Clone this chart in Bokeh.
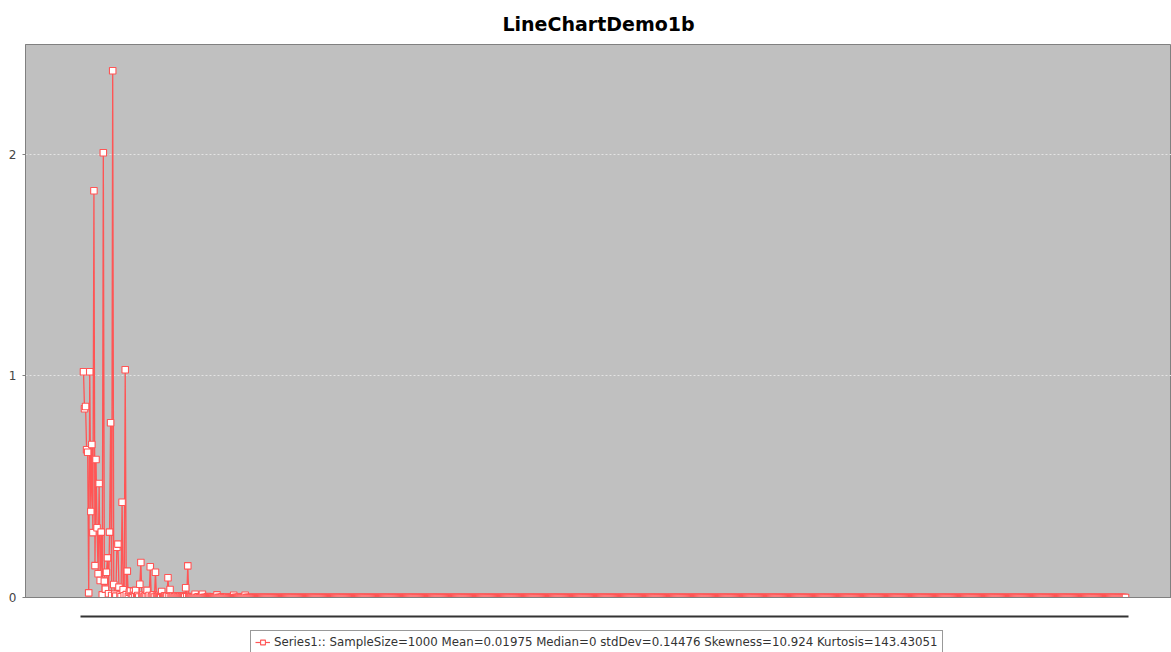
from bokeh.plotting import figure
from bokeh.layouts import column
from bokeh.models import Range1d, FixedTicker, LinearAxis, Legend, LegendItem, ColumnDataSource
from bokeh.embed import file_html
from bokeh.resources import INLINE

# ---------------- data ----------------
N_SAMPLES = 1000
chart_title = "LineChartDemo1b"
legend_label = ("Series1:: SampleSize=1000 Mean=0.01975 Median=0 stdDev=0.14476 "
                "Skewness=10.924 Kurtosis=143.43051")
y_ticks = [0, 1, 2]

# non-zero samples (index, value); every other sample is 0
nonzero_index = [
    0, 1, 2, 3, 4, 5, 6, 7, 8, 9, 10, 11, 12, 13, 14, 15, 16, 17, 18, 19,
    20, 21, 22, 23, 24, 25, 26, 27, 28, 29, 30, 31, 32, 33, 34, 35, 36, 37, 38, 39,
    40, 41, 42, 43, 44, 45, 46, 47, 48, 49, 50, 51, 52, 53, 54, 55, 56, 57, 58, 59,
    60, 61, 62, 63, 64, 65, 66, 67, 68, 69, 70, 71, 72, 73, 74, 75, 76, 77, 78, 79,
    80, 81, 82, 83, 84, 85, 86, 87, 88, 89, 90, 91, 92, 93, 94, 95, 96, 97, 98, 99,
    100, 103, 107, 110, 114, 119, 123, 128, 133, 138, 144, 149, 155,
]
nonzero_value = [
    1.019, 0.852, 0.862, 0.667, 0.656, 0.021, 1.019, 0.388, 0.691, 0.293,
    1.836, 0.144, 0.623, 0.315, 0.107, 0.515, 0.077, 0.295, 0.012, 2.008,
    0.074, 0.038, 0.114, 0.179, 0.017, 0.295, 0.789, 0.009, 2.378, 0.059,
    0.015, 0.006, 0.227, 0.241, 0.047, 0.011, 0.004, 0.430, 0.035, 0.008,
    1.028, 0.013, 0.119, 0.005, 0.024, 0.030, 0.007, 0.003, 0.028, 0.010,
    0.032, 0.004, 0.009, 0.002, 0.060, 0.158, 0.006, 0.011, 0.003, 0.008,
    0.004, 0.032, 0.005, 0.009, 0.139, 0.003, 0.007, 0.012, 0.002, 0.114,
    0.006, 0.004, 0.009, 0.003, 0.005, 0.027, 0.004, 0.002, 0.008, 0.003,
    0.006, 0.089, 0.004, 0.036, 0.005, 0.002, 0.007, 0.003, 0.004, 0.006,
    0.002, 0.005, 0.003, 0.008, 0.004, 0.002, 0.006, 0.003, 0.044, 0.004,
    0.143, 0.004, 0.015, 0.003, 0.015, 0.004, 0.003, 0.012, 0.003, 0.002,
    0.010, 0.002, 0.010,
]

sample_index = list(range(N_SAMPLES))
sample_value = [0.0] * N_SAMPLES
for i, v in zip(nonzero_index, nonzero_value):
    sample_value[i] = v

src = ColumnDataSource(data=dict(x=sample_index, y=sample_value))

LINE_COLOR = "#ff5555"

# ---------------- main chart ----------------
p = figure(width=1171, height=620, output_backend="svg", toolbar_location=None,
           x_range=Range1d(-55.6, 1043.1), y_range=Range1d(0, 2.4966),
           x_axis_location=None, y_axis_location="left",
           min_border_left=25, min_border_right=0, min_border_top=44,
           min_border_bottom=23)

p.background_fill_color = "#c0c0c0"
p.border_fill_color = "white"
p.outline_line_color = "#808080"
p.outline_line_width = 1

p.title.text = chart_title
p.title.align = "center"
p.title.text_font = "DejaVu Sans"
p.title.text_font_style = "bold"
p.title.text_font_size = "19px"
p.title.text_color = "black"
p.title.standoff = 20

for g in p.xgrid:
    g.visible = False
p.ygrid.ticker = FixedTicker(ticks=y_ticks[1:])
p.ygrid.grid_line_color = "#e4e4e4"
p.ygrid.grid_line_dash = "2 2"
p.ygrid.grid_line_width = 1

ya = p.yaxis[0]
ya.ticker = FixedTicker(ticks=y_ticks)
ya.major_label_text_font = "DejaVu Sans"
ya.major_label_text_font_size = "12px"
ya.major_label_text_color = "#444444"
ya.axis_line_color = "#808080"
ya.major_tick_line_color = "#808080"
ya.major_tick_out = 3
ya.major_tick_in = 0
ya.minor_tick_out = 0
ya.minor_tick_in = 0
ya.major_label_standoff = 6

# bottom axes: spacer (plot edge) + category axis line
ax_gap = LinearAxis(ticker=FixedTicker(ticks=[500]), axis_line_color="#808080",
                    major_tick_out=19, major_tick_in=0, minor_tick_out=0,
                    minor_tick_in=0, major_label_standoff=0,
                    major_tick_line_alpha=0, major_label_text_alpha=0,
                    major_label_text_font_size="1px")
ax_cat = LinearAxis(ticker=FixedTicker(ticks=[500]), axis_line_color="#333333",
                    axis_line_width=2, bounds=(-2.9, 1001.9),
                    major_tick_out=2, major_tick_in=0, minor_tick_out=0,
                    minor_tick_in=0, major_label_standoff=0,
                    major_tick_line_alpha=0, major_label_text_alpha=0,
                    major_label_text_font_size="1px")
p.add_layout(ax_gap, "below")
p.add_layout(ax_cat, "below")

p.line("x", "y", source=src, line_color=LINE_COLOR, line_width=1.3)
p.scatter("x", "y", source=src, marker="square", size=6.5,
          fill_color="white", line_color=LINE_COLOR, line_width=1.1)

# ---------------- legend strip ----------------
q = figure(width=1171, height=32, output_backend="svg", toolbar_location=None,
           x_range=Range1d(-55.6, 1043.1), y_range=Range1d(10, 11),
           x_axis_location=None, y_axis_location=None,
           min_border_left=0, min_border_right=0, min_border_top=0,
           min_border_bottom=0)
q.background_fill_color = "white"
q.border_fill_color = "white"
q.outline_line_color = None
q.grid.visible = False

leg_line = q.line("x", "y", source=src, line_color=LINE_COLOR, line_width=1.2)
leg_pts = q.scatter("x", "y", source=src, marker="square", size=6.5,
                    fill_color="white", line_color=LINE_COLOR, line_width=1.1)

legend = Legend(items=[LegendItem(label=legend_label, renderers=[leg_line, leg_pts])],
                location=(225, -2), orientation="horizontal",
                padding=4, margin=0, spacing=0, glyph_width=15, glyph_height=12,
                label_standoff=4, label_height=12,
                label_text_font="DejaVu Sans", label_text_font_size="11.8px",
                label_text_color="#333333",
                border_line_color="#333333", border_line_width=1,
                background_fill_color="white", background_fill_alpha=1)
q.add_layout(legend, "center")

layout = column(p, q, spacing=0)
open("out.html", "w").write(file_html(layout, INLINE))
